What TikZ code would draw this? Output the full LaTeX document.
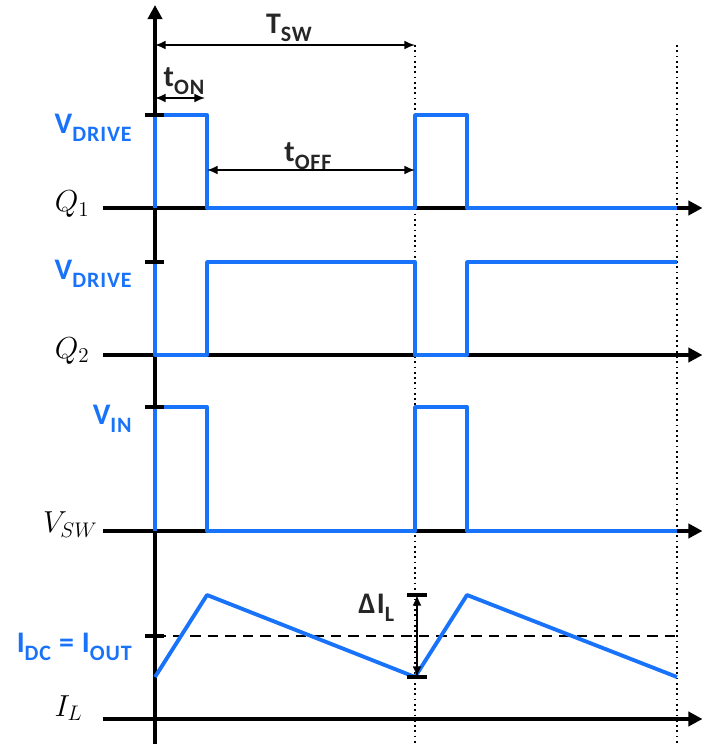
\documentclass[tikz,border=0pt]{standalone}
\usepackage{fontspec}
\setmainfont{Carlito}
\newfontfamily\lblfont[LetterSpace=4]{Carlito}
\usepackage{amsmath}
\usetikzlibrary{positioning,arrows.meta,calc}
\definecolor{wave}{RGB}{25,115,250}
\newcommand{\dn}[1]{\raisebox{-0.25em}{\fontsize{12.5}{13}\selectfont #1}}

\begin{document}
\begin{tikzpicture}[
        axis/.style={line width=2.2pt, -{Triangle[length=8pt,width=8pt]}},
        signal/.style={wave, line width=2.2pt, line join=round},
        tickline/.style={line width=2.2pt},
        guide/.style={dotted, line width=1pt},
        dim/.style={line width=1pt, {Latex[length=6pt,width=5pt]}-{Latex[length=6pt,width=5pt]}},
        level/.style={text=wave, font=\lblfont\fontsize{17}{19}\selectfont\bfseries, anchor=east, inner sep=0pt},
        sig/.style={font=\fontsize{17}{19}\selectfont, anchor=base east, inner sep=0pt},
        span/.style={text=black!85, font=\lblfont\fontsize{17}{19}\selectfont\bfseries, inner sep=0pt}
    ]
        \useasboundingbox (-3.1,0) rectangle (10.98,14.88);

        % switching instants
        \coordinate (p0) at (0,13.98);
        \coordinate (p1) at (5.2,13.98);
        \coordinate (p2) at (10.44,13.98);
        \draw[guide] (p1) -- (5.2,0);
        \draw[guide] (p2) -- (10.44,0);

        % axes
        \draw[axis] (0,0) -- (0,14.78);
        \foreach \y in {10.72,7.78,4.26,0.5}
            \draw[axis] (-1.04,\y) -- (10.95,\y);

        \draw[dashed, line width=1.2pt, dash pattern=on 6pt off 4pt] (0,2.16) -- (10.44,2.16);

        % waveforms
        \draw[signal] (0,10.72) -- (0,12.58) -- (1.04,12.58) -- (1.04,10.72) -- (5.2,10.72)
            -- (5.2,12.58) -- (6.24,12.58) -- (6.24,10.72) -- (10.44,10.72);
        \draw[signal] (0,9.64) -- (0,7.78) -- (1.04,7.78) -- (1.04,9.64) -- (5.2,9.64)
            -- (5.2,7.78) -- (6.24,7.78) -- (6.24,9.64) -- (10.44,9.64);
        \draw[signal] (0,4.26) -- (0,6.74) -- (1.04,6.74) -- (1.04,4.26) -- (5.2,4.26)
            -- (5.2,6.74) -- (6.24,6.74) -- (6.24,4.26) -- (10.44,4.26);
        \draw[signal] (0,1.34) -- (1.04,2.98) -- (5.2,1.34) -- (6.24,2.98) -- (10.44,1.34);

        % level ticks
        \foreach \y in {12.58,9.64,6.74,2.16}
            \draw[tickline] (-0.2,\y) -- (0.18,\y);

        % time spans
        \coordinate (on0) at (0,12.92);
        \coordinate (on1) at (1.0,12.92);
        \coordinate (off0) at (1.04,11.48);
        \coordinate (off1) at (5.2,11.48);
        \draw[dim] (p0) -- (p1);
        \draw[dim] (on0) -- (on1);
        \draw[dim] (off0) -- (off1);
        \node[span] (tsw) at (2.68,14.32) {T\dn{SW}};
        \node[span] (ton) at (0.58,13.26) {t\dn{ON}};
        \node[span] (toff) at (3.06,11.76) {t\dn{OFF}};

        % ripple
        \coordinate (rlo) at (5.24,1.34);
        \coordinate (rhi) at (5.24,2.98);
        \draw[tickline] ($(rlo)+(-0.2,0)$) -- ($(rlo)+(0.2,0)$);
        \draw[tickline] ($(rhi)+(-0.2,0)$) -- ($(rhi)+(0.2,0)$);
        \draw[dim] (rlo) -- (rhi);
        \node[span, left=0.45 of rhi, yshift=-0.26cm] (dil) {ΔI\dn{L}};

        % levels
        \node[level] (vdrv1) at (-0.46,12.32) {V\dn{DRIVE}};
        \node[level] (vdrv2) at (-0.46,9.4) {V\dn{DRIVE}};
        \node[level] (vin) at (-0.46,6.5) {V\dn{IN}};
        \node[level] (idc) at (-0.46,1.94) {I\dn{DC} = I\dn{OUT}};

        % signal names
        \node[sig] (q1) at (-1.3,10.64) {$Q_1$};
        \node[sig] (q2) at (-1.3,7.72) {$Q_2$};
        \node[sig] (vsw) at (-1.14,4.22) {$V_{SW}$};
        \node[sig] (il) at (-1.44,0.56) {$I_L$};
    \end{tikzpicture}
\end{document}
